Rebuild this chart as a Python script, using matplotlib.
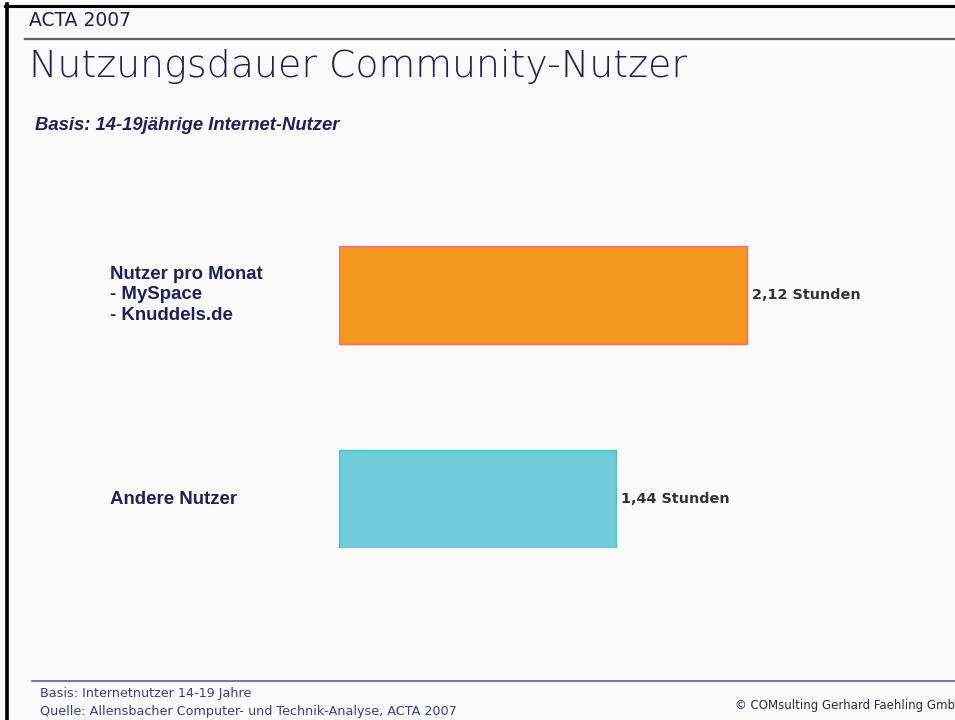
import matplotlib
matplotlib.use("Agg")
import matplotlib.pyplot as plt
from matplotlib.lines import Line2D
from matplotlib.transforms import blended_transform_factory

categories = ["Nutzer pro Monat\n- MySpace\n- Knuddels.de", "Andere Nutzer"]
values = [2.12, 1.44]
value_labels = ["2,12 Stunden", "1,44 Stunden"]
bar_colors = ["#F5961F", "#70CCDA"]
edge_colors = ["#EE6F6F", "#45C4C8"]

W, H = 955, 720
fig = plt.figure(figsize=(W / 100, H / 100), dpi=100)
fig.patch.set_facecolor("#FAFAFA")

def fx(px):
    return px / W

def fy(py):
    return 1 - py / H

navy = "#1F1F5C"
footc = "#3C3C8C"

# border
fig.add_artist(Line2D([fx(6.5), fx(6.5)], [fy(4), fy(720)], color="black", lw=2.6, transform=fig.transFigure))
fig.add_artist(Line2D([fx(5), fx(955)], [fy(5.5), fy(5.5)], color="black", lw=2.2, transform=fig.transFigure))
# header line
fig.add_artist(Line2D([fx(25), fx(955)], [fy(39), fy(39)], color="#5C5C98", lw=1.6, transform=fig.transFigure))
# footer line
fig.add_artist(Line2D([fx(32), fx(955)], [fy(681), fy(681)], color="#5C5C98", lw=1.2, transform=fig.transFigure))

fig.text(fx(29), fy(21), "ACTA 2007", fontsize=13.5, color=navy, va="center", ha="left",
         family="DejaVu Sans")
fig.text(fx(29), fy(67), "Nutzungsdauer Community-Nutzer", fontsize=27.3, color=navy, va="center", ha="left",
         family="DejaVu Sans", fontweight="light")
fig.text(fx(35), fy(125), "Basis: 14-19jährige Internet-Nutzer", fontsize=13.3, color=navy, va="center", ha="left",
         family="Liberation Sans", fontweight="bold", style="italic")

fig.text(fx(40), fy(694), "Basis: Internetnutzer 14-19 Jahre", fontsize=9.2, color=footc, va="center", ha="left",
         family="DejaVu Sans")
fig.text(fx(40), fy(712), "Quelle: Allensbacher Computer- und Technik-Analyse, ACTA 2007", fontsize=9.2, color=footc,
         va="center", ha="left", family="DejaVu Sans")
fig.text(fx(735), fy(705), "© COMsulting Gerhard Faehling GmbH", fontsize=8.5, color="#2A2A4A", va="center", ha="left",
         family="DejaVu Sans")

# bar axes: x 339..955 px, y 246..548 px
ax = fig.add_axes([fx(339), fy(548), (955 - 339) / W, (548 - 246) / H])
ax.set_facecolor("none")
ypos = list(range(len(values)))
ax.barh(ypos, values, height=0.48, color=bar_colors, edgecolor=edge_colors, linewidth=1.0, align="center")
ax.set_xlim(0, 616 / 192.6)
ax.set_ylim(1.24, -0.24)
ax.axis("off")
for y, v, lab in zip(ypos, values, value_labels):
    ax.text(v + 0.025, y, lab, fontsize=10.4, fontweight="bold", color="#333333", va="center", ha="left",
            family="DejaVu Sans")
trans = blended_transform_factory(fig.transFigure, ax.transData)
for y, cat in zip(ypos, categories):
    ax.text(fx(110), y, cat, transform=trans, fontsize=13.4, fontweight="bold", color=navy,
            va="center", ha="left", family="Liberation Sans", linespacing=1.24, clip_on=False)

fig.savefig("out.png", dpi=100, facecolor=fig.get_facecolor())
